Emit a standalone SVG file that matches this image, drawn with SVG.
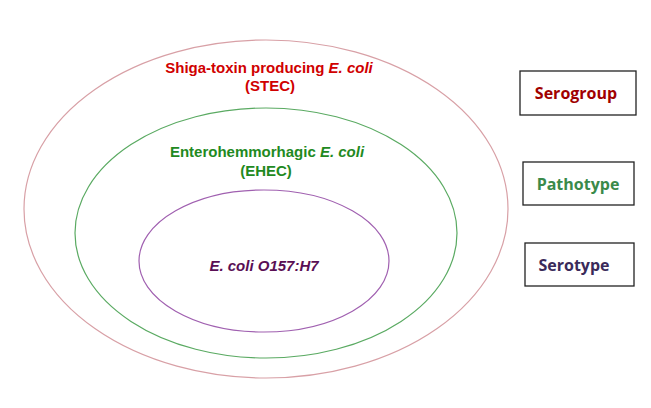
<svg xmlns="http://www.w3.org/2000/svg" width="651" height="408" viewBox="0 0 651 408">
<style>
.ell{fill:none;stroke-width:1.2}
.lbl{font-family:"Liberation Sans",Arial,sans-serif;font-weight:bold;font-size:15px;text-anchor:middle}
.box{fill:#fff;stroke:#222;stroke-width:1.3}
.bt{font-family:"Open Sans","Liberation Sans",sans-serif;font-weight:bold;font-size:16px;text-anchor:middle}
</style>
<rect width="651" height="408" fill="#fff"/>
<g id="stec">
<ellipse class="ell" cx="266" cy="209" rx="242" ry="169" stroke="#d8a0a6"/>
<text class="lbl" x="269" y="73" fill="#d00000">Shiga-toxin producing <tspan font-style="italic">E. coli</tspan></text>
<text class="lbl" x="270" y="91" fill="#d00000">(STEC)</text>
</g>
<g id="ehec">
<ellipse class="ell" cx="266" cy="233" rx="191" ry="125" stroke="#5aaa62"/>
<text class="lbl" x="267" y="157" fill="#1f8a22">Enterohemmorhagic <tspan font-style="italic">E. coli</tspan></text>
<text class="lbl" x="266" y="176" fill="#1f8a22">(EHEC)</text>
</g>
<g id="o157">
<ellipse class="ell" cx="264" cy="261" rx="125" ry="71" stroke="#a060b0"/>
<text class="lbl" x="264" y="271" fill="#5a0f55" font-style="italic">E. coli O157:H7</text>
</g>
<g id="serogroup">
<rect class="box" x="520" y="71" width="116" height="44"/>
<text class="bt" x="576" y="99" fill="#a00000">Serogroup</text>
</g>
<g id="pathotype">
<rect class="box" x="523" y="162" width="111" height="43"/>
<text class="bt" x="578" y="190" fill="#3a8a4a">Pathotype</text>
</g>
<g id="serotype">
<rect class="box" x="525" y="243" width="109" height="43"/>
<text class="bt" x="574" y="271" fill="#3a2a5a">Serotype</text>
</g>
<g id="connectors"/>
</svg>
